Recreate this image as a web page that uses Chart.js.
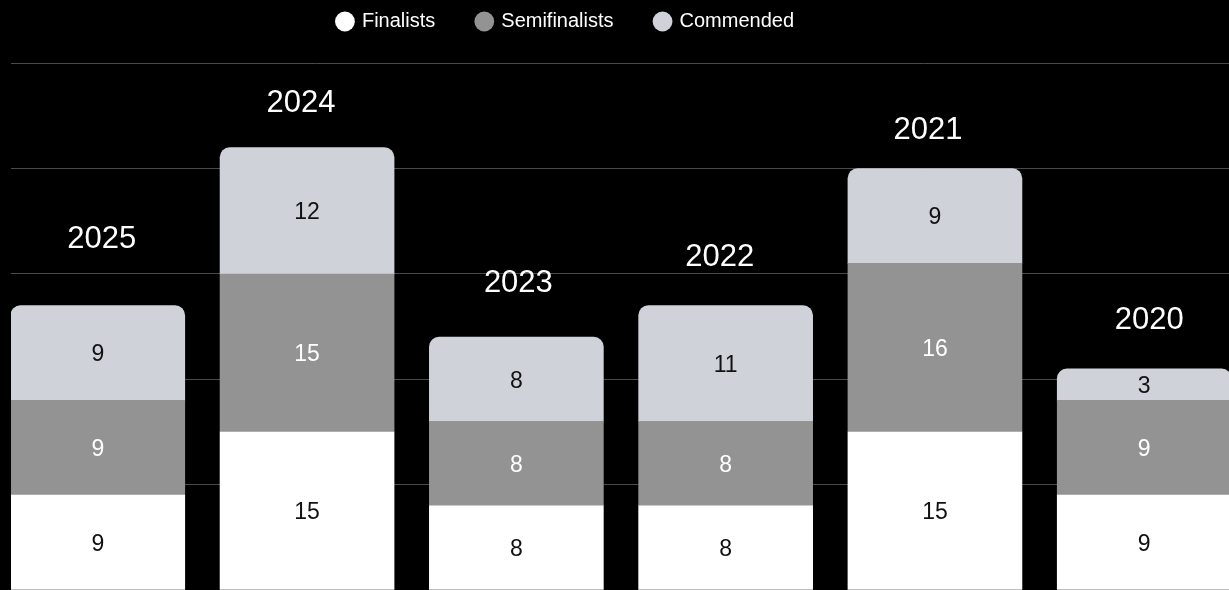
<!DOCTYPE html>
<html>
<head>
<meta charset="utf-8">
<script src="https://cdn.jsdelivr.net/npm/chart.js@4.4.1/dist/chart.umd.min.js"></script>
<style>
  html, body { margin: 0; padding: 0; background: #000; overflow: hidden; }
  #wrap { position: relative; width: 1229px; height: 590px; }
</style>
</head>
<body>
<div id="wrap"><canvas id="c"></canvas></div>
<script>
// ---- data ----
const years = ['2025', '2024', '2023', '2022', '2021', '2020'];
const finalists = [9, 15, 8, 8, 15, 9];
const semifinalists = [9, 15, 8, 8, 16, 9];
const commended = [9, 12, 8, 11, 9, 3];
const seriesNames = ['Finalists', 'Semifinalists', 'Commended'];
const yTicks = { min: 0, max: 50, step: 10 };

// ---- styles ----
const FONT = '"Liberation Sans", Arial, Helvetica, sans-serif';
const COLORS = ['#ffffff', '#939393', '#cfd2d9'];
const LABEL_COLORS = ['#111111', '#ffffff', '#111111'];

const toPoints = arr => arr.map((v, i) => ({ x: i, y: v }));

const valueLabels = {
  id: 'valueLabels',
  afterDatasetsDraw(chart, args, opts) {
    const ctx = chart.ctx;
    ctx.save();
    ctx.font = opts.size + 'px ' + FONT;
    ctx.textAlign = 'center';
    ctx.textBaseline = 'middle';
    chart.data.datasets.forEach((ds, di) => {
      const meta = chart.getDatasetMeta(di);
      meta.data.forEach((el, i) => {
        const p = el.getProps(['x', 'y', 'base'], true);
        ctx.fillStyle = opts.colors[di];
        ctx.fillText(String(ds.data[i].y), p.x, (p.y + p.base) / 2 + opts.dy);
      });
    });
    ctx.restore();
  }
};

const yearLabels = {
  id: 'yearLabels',
  afterDatasetsDraw(chart, args, opts) {
    const ctx = chart.ctx;
    const last = chart.data.datasets.length - 1;
    const meta = chart.getDatasetMeta(last);
    ctx.save();
    ctx.font = opts.size + 'px ' + FONT;
    ctx.fillStyle = opts.color;
    ctx.textAlign = 'center';
    ctx.textBaseline = 'middle';
    meta.data.forEach((el, i) => {
      const p = el.getProps(['x', 'y'], true);
      const n = opts.nudge[i] || [0, 0];
      ctx.fillText(chart.data.labels[i], p.x + n[0], p.y - opts.gap + n[1]);
    });
    ctx.restore();
  }
};

const legendPlace = {
  id: 'legendPlace',
  afterLayout(chart, args, opts) {
    const lg = chart.legend;
    if (!lg) return;
    const half = (lg.right - lg.left) / 2;
    lg.left = opts.centerX - half;
    lg.right = opts.centerX + half;
    lg.top = opts.centerY - opts.padding - opts.fontSize / 2;
  }
};

const datasets = [finalists, semifinalists, commended].map((arr, k) => ({
  label: seriesNames[k],
  data: toPoints(arr),
  backgroundColor: COLORS[k],
  borderWidth: 0,
  barThickness: 174,
  borderRadius: k === 2 ? { topLeft: 10, topRight: 10, bottomLeft: 0, bottomRight: 0 } : 0,
  borderSkipped: k === 2 ? 'start' : false
}));

const LEGEND_PAD = 42;

new Chart(document.getElementById('c'), {
  type: 'bar',
  data: { labels: years, datasets },
  plugins: [valueLabels, yearLabels, legendPlace],
  options: {
    responsive: true,
    maintainAspectRatio: false,
    animation: false,
    layout: { padding: { top: -8.7, left: 11, right: 0, bottom: 0 } },
    scales: {
      x: {
        type: 'linear',
        stacked: true,
        display: false,
        offset: false,
        grid: { offset: false },
        min: -0.4146,
        max: 5.405,
        ticks: { stepSize: 1, includeBounds: false }
      },
      y: {
        stacked: true,
        min: yTicks.min,
        max: yTicks.max,
        ticks: { display: false, stepSize: yTicks.step },
        grid: { color: '#4a4a4a', lineWidth: 1, drawTicks: false },
        border: { display: false }
      }
    },
    plugins: {
      tooltip: { enabled: false },
      legend: {
        position: 'top',
        align: 'center',
        labels: {
          usePointStyle: true,
          pointStyle: 'circle',
          boxWidth: 14,
          boxHeight: 14,
          padding: LEGEND_PAD,
          color: '#ffffff',
          font: { size: 20, family: FONT }
        }
      },
      legendPlace: { centerX: 566, centerY: 21.5, padding: LEGEND_PAD, fontSize: 20 },
      valueLabels: { size: 23, colors: LABEL_COLORS, dy: 2 },
      yearLabels: {
        size: 31,
        color: '#ffffff',
        gap: 49,
        nudge: [[4, -17], [-6, 5], [2, -5], [-6, 1], [-7, 11], [5, 1]]
      }
    }
  }
});
</script>
</body>
</html>
